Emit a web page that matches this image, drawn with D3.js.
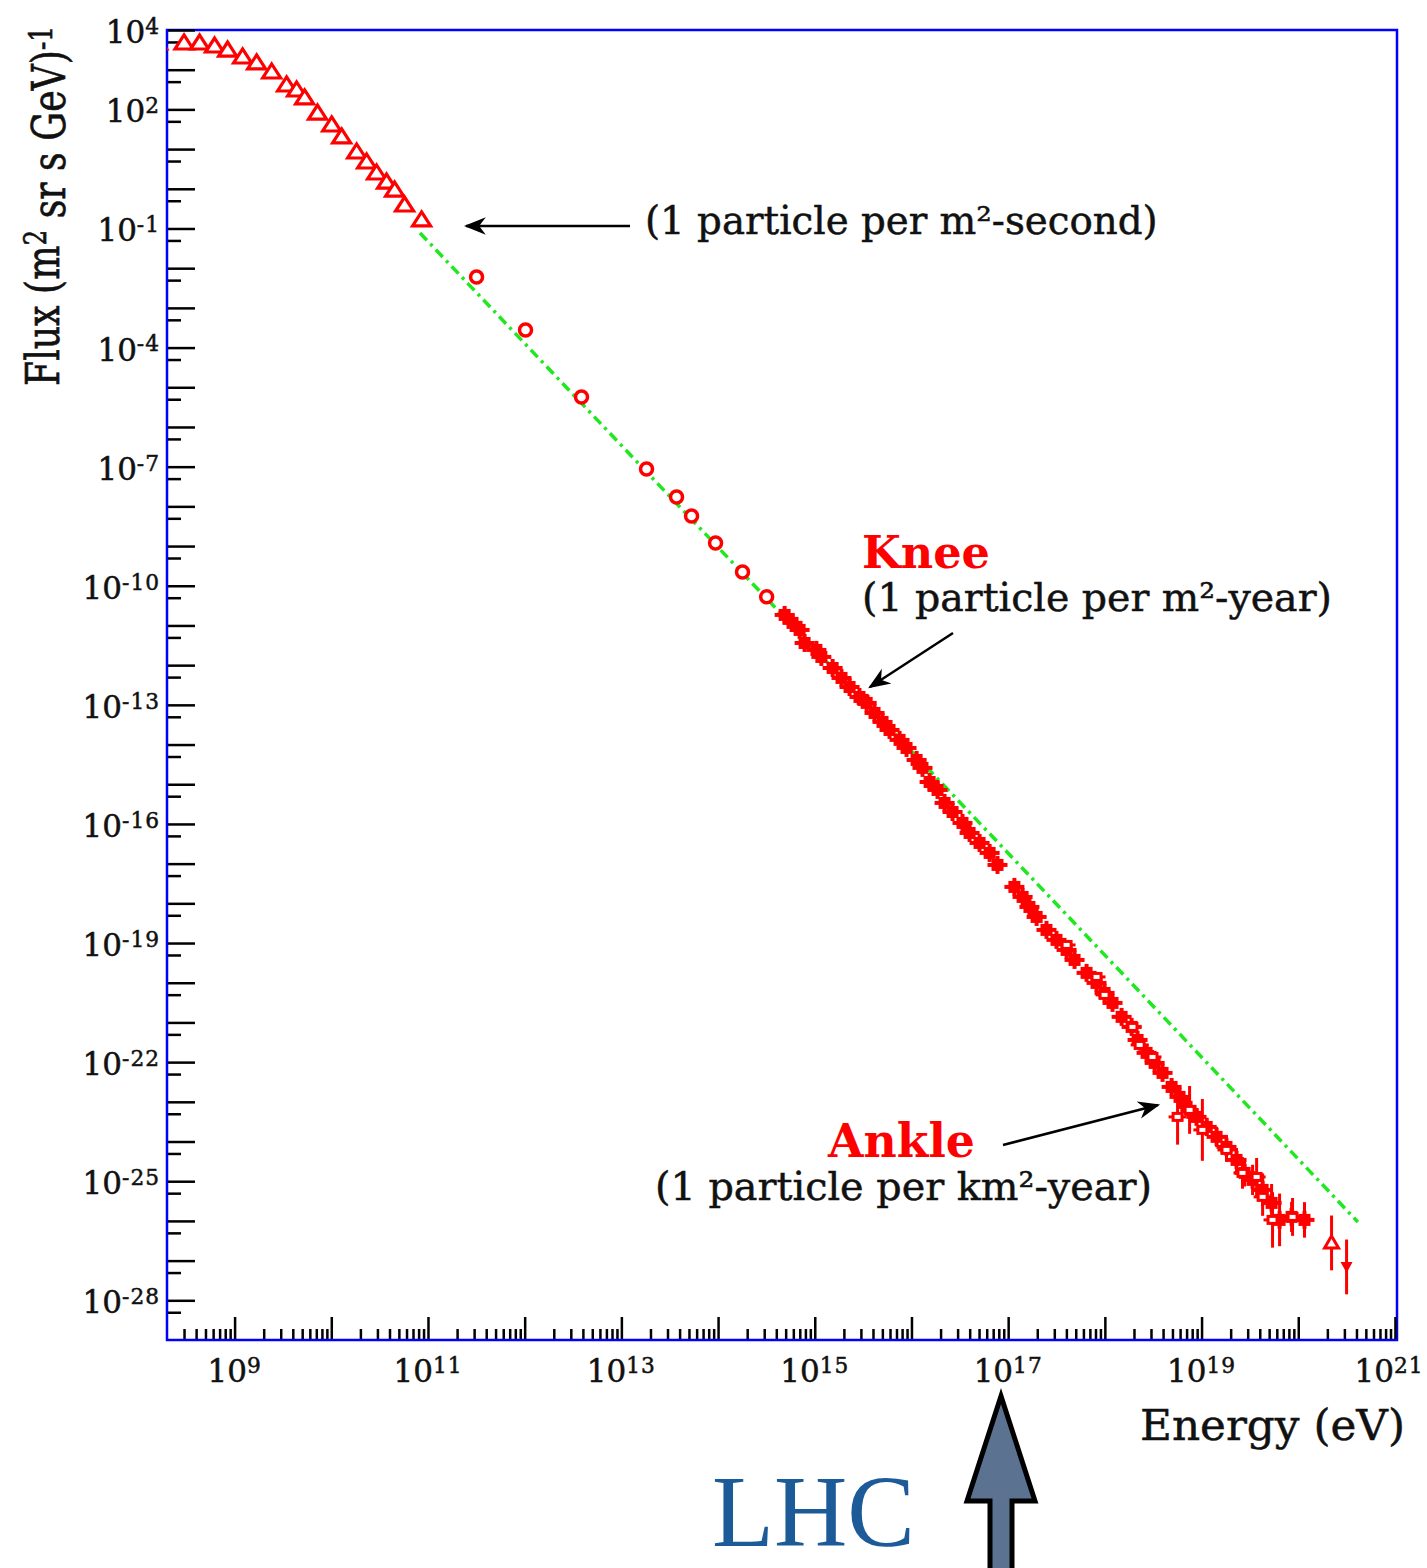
<!DOCTYPE html>
<html>
<head>
<meta charset="utf-8">
<script src="https://cdn.jsdelivr.net/npm/d3@7/dist/d3.min.js"></script>
<style>
  body { margin: 0; background: #fff; }
  svg { display: block; }
  text { font-family: "DejaVu Serif", serif; fill: #111; }
  .heavy { stroke: #111; stroke-width: 0.5; }
</style>
</head>
<body>
<svg id="chart" width="1427" height="1568"></svg>
<script>
// values: energy in eV, flux in (m^2 sr s GeV)^-1
const lowEnergy = [1.6e8, 3.0e8, 4.35e8, 6.21e8, 8.47e8, 1.21e9, 1.69e9, 2.42e9, 3.45e9, 4.38e9, 5.30e9,
                   7.21e9, 1.01e10, 1.28e10, 1.83e10, 2.32e10, 2.94e10, 3.73e10, 4.52e10, 5.73e10, 8.59e10];
const lowFlux = [4.7e3, 4.71e3, 4.7e3, 3.95e3, 3.13e3, 2.09e3, 1.48e3, 875, 412, 308, 194,
                 81, 40.5, 20.2, 8.45, 4.73, 2.50, 1.48, 0.93, 0.39, 0.164];

const midEnergy = [3.18e11, 1.02e12, 3.87e12, 1.82e13, 3.72e13, 5.32e13, 9.42e13, 1.79e14, 3.18e14];
const midFlux = [6.0e-3, 2.77e-4, 5.7e-6, 8.75e-8, 1.73e-8, 5.73e-9, 1.20e-9, 2.23e-10, 5.25e-11];

const kneeEnergy = [4.88e14, 5.89e14, 6.97e14, 7.85e14, 1.04e15, 1.17e15, 1.53e15, 1.89e15, 2.29e15,
                    2.90e15, 3.44e15, 4.15e15, 5.02e15, 5.93e15, 7.53e15, 8.89e15, 1.13e16, 1.30e16,
                    1.54e16, 1.86e16, 2.20e16, 2.66e16, 3.37e16, 3.99e16, 5.06e16, 6.43e16, 7.76e16];
const kneeFlux = [1.84e-11, 1.16e-11, 7.71e-12, 3.62e-12, 2.42e-12, 1.61e-12, 8.49e-13, 4.76e-13, 2.82e-13,
                  1.58e-13, 1.12e-13, 6.25e-14, 3.71e-14, 2.33e-14, 1.31e-14, 8.20e-15, 4.09e-15, 2.58e-15,
                  1.14e-15, 7.18e-16, 3.38e-16, 2.00e-16, 1.06e-16, 5.93e-17, 3.32e-17, 1.86e-17, 9.27e-18];

const ankleEnergy = [1.16e17, 1.41e17, 1.66e17, 1.97e17, 2.49e17, 3.16e17, 4.02e17, 4.86e17, 6.47e17,
                     8.20e17, 9.93e17, 1.20e18, 1.49e18, 1.89e18, 2.18e18, 2.70e18, 3.27e18, 3.95e18,
                     4.90e18, 5.92e18, 7.00e18, 8.87e18, 1.13e19, 1.43e19, 1.81e19, 2.30e19, 2.79e19,
                     3.37e19, 4.28e19, 5.30e19, 6.41e19, 8.53e19, 1.16e20];
const ankleFlux = [2.59e-18, 1.45e-18, 8.11e-19, 4.54e-19, 2.14e-19, 1.20e-19, 6.70e-20, 3.75e-20, 1.77e-20,
                   9.89e-21, 5.53e-21, 3.10e-21, 1.38e-21, 7.71e-22, 3.62e-22, 1.71e-22, 9.55e-23, 5.35e-23,
                   2.37e-23, 1.33e-23, 7.45e-24, 4.17e-24, 2.33e-24, 1.31e-24, 7.31e-25, 3.44e-25, 1.62e-25,
                   1.08e-25, 6.04e-26, 2.84e-26, 1.06e-26, 1.26e-26, 1.06e-26];
const ankleErr = [1.15, 1.15, 1.15, 1.15, 1.15, 1.15, 1.15, 1.15, 1.2,
                  1.2, 1.2, 1.2, 1.2, 1.25, 1.25, 1.3, 1.3, 1.35,
                  1.4, 1.5, 1.6, 1.6, 1.7, 1.8, 2.0, 2.0, 2.2,
                  2.4, 2.6, 3.0, 4.6, 2.4, 2.8];

const ankleOpenEnergy = [4.02e17, 8.20e17, 9.93e17, 1.93e18, 2.29e18, 3.11e18, 5.65e18, 7.52e18,
                         1.02e19, 1.81e19, 2.65e19, 3.71e19, 4.28e19, 5.42e19, 8.73e19];
const ankleOpenFlux = [8.95e-20, 1.40e-20, 4.93e-21, 7.71e-22, 2.71e-22, 1.35e-22, 4.17e-24, 6.25e-24,
                       1.96e-24, 6.14e-25, 1.62e-25, 1.28e-25, 4.03e-26, 1.06e-26, 1.26e-26];
const ankleOpenErr = [1.3, 1.3, 1.3, 1.4, 1.4, 1.5, 5, 4, 6, 2, 2.5, 3, 3, 5, 3];

const tailEnergy = [2.21e20, 3.16e20];
const tailFlux = [2.79e-27, 6.93e-28];
const tailErr = [4.9, 4.9];

// power-law line drawn through the points (end points)
const fitEnergy = [8.27e10, 4.14e20];
const fitFlux = [7.69e-2, 9.38e-27];

const xLabelExp = [9, 11, 13, 15, 17, 19, 21];
const yLabelExp = [4, 2, -1, -4, -7, -10, -13, -16, -19, -22, -25, -28];

// ---- layout ----
const plot = {left: 167, right: 1397, top: 30, bottom: 1340};
const red = "#ff0000";

const x = d3.scaleLog().domain([2e8, 1.05e21]).range([plot.left, plot.right]);
const y = d3.scaleLog().domain([1e-29, 1e4]).range([plot.bottom, plot.top]);

const svg = d3.select("#chart");
const defs = svg.append("defs");

defs.append("clipPath").attr("id", "clip")
  .append("rect")
  .attr("x", plot.left).attr("y", plot.top)
  .attr("width", plot.right - plot.left).attr("height", plot.bottom - plot.top);

defs.append("marker").attr("id", "head")
  .attr("viewBox", "0 0 10 10").attr("refX", 9).attr("refY", 5)
  .attr("markerWidth", 22).attr("markerHeight", 22).attr("markerUnits", "userSpaceOnUse")
  .attr("orient", "auto")
  .append("path").attr("d", "M0,1 L10,5 L0,9 L3,5 Z").attr("fill", "#000");

// frame
svg.append("rect")
  .attr("x", plot.left).attr("y", plot.top)
  .attr("width", plot.right - plot.left).attr("height", plot.bottom - plot.top)
  .attr("fill", "none").attr("stroke", "#0000ff").attr("stroke-width", 2.5);

// ticks
const majorX = d3.range(9, 22).map(k => Math.pow(10, k));
const minorX = [];
for (let k = 8; k <= 20; k++)
  for (let m = 2; m <= 9; m++) {
    const v = m * Math.pow(10, k);
    if (v > 2e8 && v < 1.05e21) minorX.push(v);
  }
const majorY = d3.range(-28, 5).map(k => Math.pow(10, k));
const minorY = d3.range(-29, 4).map(k => 5 * Math.pow(10, k));

function tickStyle(g) {
  g.select(".domain").remove();
  g.selectAll(".tick line").attr("stroke", "#000").attr("stroke-width", 2.5);
}

svg.append("g").attr("transform", `translate(0,${plot.bottom - 1})`)
  .call(d3.axisTop(x).tickValues(majorX).tickSize(22).tickFormat(""))
  .call(tickStyle);
svg.append("g").attr("transform", `translate(0,${plot.bottom - 1})`)
  .call(d3.axisTop(x).tickValues(minorX).tickSize(10).tickFormat(""))
  .call(tickStyle);
svg.append("g").attr("transform", `translate(${plot.left + 1},0)`)
  .call(d3.axisRight(y).tickValues(majorY).tickSize(27).tickFormat(""))
  .call(tickStyle);
svg.append("g").attr("transform", `translate(${plot.left + 1},0)`)
  .call(d3.axisRight(y).tickValues(minorY).tickSize(13).tickFormat(""))
  .call(tickStyle);

// tick labels
const yl = svg.append("g").selectAll("text").data(yLabelExp).join("text")
  .attr("class", "heavy")
  .attr("x", 160).attr("y", d => y(Math.pow(10, d)) + 13)
  .attr("text-anchor", "end").attr("font-size", 31);
yl.append("tspan").text("10");
yl.append("tspan").attr("dy", "-0.42em").attr("font-size", "70%").attr("letter-spacing", 1).text(d => d);

// the last label would run past the page edge, so it is nudged left
const xl = svg.append("g").selectAll("text").data(xLabelExp).join("text")
  .attr("class", "heavy")
  .attr("x", d => Math.min(x(Math.pow(10, d)), 1389)).attr("y", 1382)
  .attr("text-anchor", "middle").attr("font-size", 31);
xl.append("tspan").text("10");
xl.append("tspan").attr("dy", "-0.42em").attr("font-size", "70%").attr("letter-spacing", 1).text(d => d);

// axis titles
function fit(sel, width) {
  const w = sel.node().getComputedTextLength();
  sel.attr("font-size", parseFloat(sel.attr("font-size")) * width / w);
  return sel;
}

const ytitle = svg.append("text")
  .attr("class", "heavy")
  .attr("transform", "translate(59,386) scale(1.3,1) rotate(-90)")
  .attr("font-size", 36);
ytitle.append("tspan").text("Flux (m");
ytitle.append("tspan").attr("dy", "-0.4em").attr("font-size", "68%").text("2");
ytitle.append("tspan").attr("dy", "0.4em").text(" sr s GeV)");
ytitle.append("tspan").attr("dy", "-0.4em").attr("font-size", "68%").text("-1");
fit(ytitle, 360);

fit(svg.append("text").attr("class", "heavy").attr("x", 1140).attr("y", 1440).attr("font-size", 36)
  .text("Energy (eV)"), 265);

// power-law line
const plotArea = svg.append("g").attr("clip-path", "url(#clip)");

plotArea.append("path")
  .datum(d3.zip(fitEnergy, fitFlux))
  .attr("d", d3.line().x(d => x(d[0])).y(d => y(d[1])))
  .attr("fill", "none").attr("stroke", "#1ee81e").attr("stroke-width", 3.5)
  .attr("stroke-dasharray", "10,5,3,5");

// error bars
function errBars(energy, flux, err) {
  plotArea.append("g").selectAll("line").data(d3.range(energy.length)).join("line")
    .attr("x1", i => x(energy[i])).attr("x2", i => x(energy[i]))
    .attr("y1", i => y(flux[i] * err[i])).attr("y2", i => y(flux[i] / err[i]))
    .attr("stroke", red).attr("stroke-width", 3);
}

// low-energy open triangles
plotArea.append("g").selectAll("path").data(d3.zip(lowEnergy, lowFlux)).join("path")
  .attr("transform", d => `translate(${x(d[0])},${y(d[1])})`)
  .attr("d", "M0,-8 L9,6 L-9,6 Z")
  .attr("fill", "#fff").attr("stroke", red).attr("stroke-width", 3.2);

// open circles
plotArea.append("g").selectAll("circle").data(d3.zip(midEnergy, midFlux)).join("circle")
  .attr("cx", d => x(d[0])).attr("cy", d => y(d[1])).attr("r", 6)
  .attr("fill", "#fff").attr("stroke", red).attr("stroke-width", 3.5);

// dense filled points
function filled(energy, flux) {
  const g = plotArea.append("g").selectAll("g").data(d3.zip(energy, flux)).join("g")
    .attr("transform", d => `translate(${x(d[0])},${y(d[1])})`);
  g.append("rect").attr("x", -6).attr("y", -6).attr("width", 12).attr("height", 12).attr("fill", red);
  g.append("line").attr("x1", -10).attr("x2", 10).attr("stroke", red).attr("stroke-width", 4);
  g.append("line").attr("y1", -9).attr("y2", 9).attr("stroke", red).attr("stroke-width", 4);
}
filled(kneeEnergy, kneeFlux);
errBars(ankleEnergy, ankleFlux, ankleErr);
errBars(ankleOpenEnergy, ankleOpenFlux, ankleOpenErr);
filled(ankleEnergy, ankleFlux);

const op = plotArea.append("g").selectAll("g").data(d3.zip(ankleOpenEnergy, ankleOpenFlux)).join("g")
  .attr("transform", d => `translate(${x(d[0])},${y(d[1])})`);
op.append("line").attr("x1", -9).attr("x2", 9).attr("stroke", red).attr("stroke-width", 3);
op.append("rect").attr("x", -4.5).attr("y", -3.5).attr("width", 9).attr("height", 7)
  .attr("fill", "#fff").attr("stroke", red).attr("stroke-width", 3);

// highest energy points
errBars(tailEnergy, tailFlux, tailErr);
plotArea.append("path")
  .attr("transform", `translate(${x(tailEnergy[0])},${y(tailFlux[0])})`)
  .attr("d", "M0,-7 L7,5 L-7,5 Z")
  .attr("fill", "#fff").attr("stroke", red).attr("stroke-width", 3);
plotArea.append("path")
  .attr("transform", `translate(${x(tailEnergy[1])},${y(tailFlux[1])})`)
  .attr("d", "M0,6 L6,-5 L-6,-5 Z")
  .attr("fill", red);

// annotations
function arrow(x1, y1, x2, y2) {
  svg.append("line").attr("x1", x1).attr("y1", y1).attr("x2", x2).attr("y2", y2)
    .attr("stroke", "#000").attr("stroke-width", 2.5).attr("marker-end", "url(#head)");
}

arrow(630, 226, 466, 226);
fit(svg.append("text").attr("class", "heavy").attr("x", 645).attr("y", 234).attr("font-size", 32)
  .text("(1 particle per m²-second)"), 513);

fit(svg.append("text").attr("x", 862).attr("y", 568).attr("font-size", 36)
  .attr("font-weight", "bold").style("fill", red).text("Knee"), 128);
fit(svg.append("text").attr("class", "heavy").attr("x", 862).attr("y", 611).attr("font-size", 32)
  .text("(1 particle per m²-year)"), 470);
arrow(953, 633, 870, 687);

fit(svg.append("text").attr("x", 828).attr("y", 1157).attr("font-size", 36)
  .attr("font-weight", "bold").style("fill", red).text("Ankle"), 147);
fit(svg.append("text").attr("class", "heavy").attr("x", 655).attr("y", 1200).attr("font-size", 32)
  .text("(1 particle per km²-year)"), 497);
arrow(1003, 1145, 1158, 1105);

// LHC marker below the axis
fit(svg.append("text").attr("x", 712).attr("y", 1546).attr("font-size", 96)
  .style("font-family", "'Liberation Serif', serif").style("fill", "#1c5b98").text("LHC"), 203);
svg.append("path")
  .attr("d", "M1001,1396 L1035,1501 L1012,1501 L1012,1575 L990,1575 L990,1501 L967,1501 Z")
  .attr("fill", "#5b7291").attr("stroke", "#000").attr("stroke-width", 5)
  .attr("stroke-linejoin", "miter");
</script>
</body>
</html>
